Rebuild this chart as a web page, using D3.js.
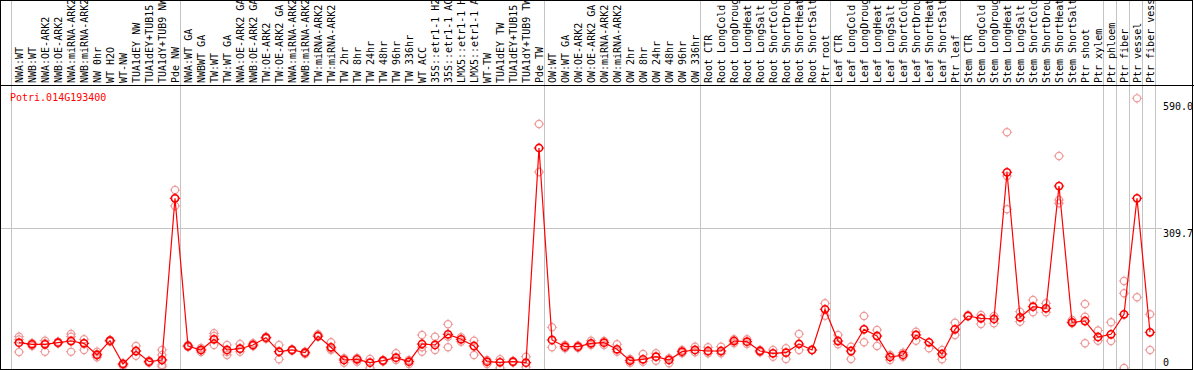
<!DOCTYPE html>
<html>
<head>
<meta charset="utf-8">
<script src="https://cdn.jsdelivr.net/npm/d3@7"></script>
<style>
  html, body { margin: 0; padding: 0; background: #fff; }
  svg { display: block; }
  text { font-family: "DejaVu Sans Mono", "Liberation Mono", monospace; font-size: 10px; }
</style>
</head>
<body>
<svg id="chart" width="1194" height="370"></svg>
<script>
const geneId = "Potri.014G193400";

const labels = [
  "NWA:WT","NWB:WT","NWA:OE-ARK2","NWB:OE-ARK2","NWA:miRNA-ARK2","NWB:miRNA-ARK2","NW 0hr","WT H2O","WT-NW",
  "TUA1dEY NW","TUA1dEY+TUB15","TUA1dY+TUB9 NW","Pde NW",
  "NWA:WT GA","NWBWT GA","TW:WT","TW:WT GA","NWA:OE-ARK2 GA","NWB:OE-ARK2 GA","TW:OE-ARK2","TW:OE-ARK2 GA",
  "NWA:miRNA-ARK2","NWB:miRNA-ARK2","TW:miRNA-ARK2","TW:miRNA-ARK2","TW 2hr","TW 8hr","TW 24hr","TW 48hr",
  "TW 96hr","TW 336hr","WT ACC","35S::etr1-1 H2","35S::etr1-1 AC","LMX5::etr1-1 H","LMX5::etr1-1 A","WT-TW",
  "TUA1dEY TW","TUA1dEY+TUB15","TUA1dY+TUB9 TW","Pde TW",
  "OW:WT","OW:WT GA","OW:OE-ARK2","OW:OE-ARK2 GA","OW:miRNA-ARK2","OW:miRNA-ARK2","OW 2hr","OW 8hr","OW 24hr",
  "OW 48hr","OW 96hr","OW 336hr",
  "Root CTR","Root LongCold","Root LongDroug","Root LongHeat","Root LongSalt","Root ShortCold","Root ShortDrou",
  "Root ShortHeat","Root ShortSalt","Ptr root",
  "Leaf CTR","Leaf LongCold","Leaf LongDroug","Leaf LongHeat","Leaf LongSalt","Leaf ShortCold","Leaf ShortDrou",
  "Leaf ShortHeat","Leaf ShortSalt","Ptr leaf",
  "Stem CTR","Stem LongCold","Stem LongDroug","Stem LongHeat","Stem LongSalt","Stem ShortCold","Stem ShortDrou",
  "Stem ShortHeat","Stem ShortSalt","Ptr shoot","Ptr xylem",
  "Ptr phloem","Ptr fiber","Ptr vessel","Ptr fiber vess"
];

const means = [
  56.2, 52.6, 52.6, 56.2, 59.9, 54.8, 28.9, 60.6, 8.9, 37.7, 14.0, 17.8, 376.7,
  48.8, 40.0, 63.7, 40.0, 42.8, 51.1, 67.3, 36.2, 40.0, 34.0, 71.0, 46.0, 17.8, 19.3, 11.8, 16.2,
  22.9, 14.0, 53.3, 51.1, 74.8, 63.7, 48.8, 14.0, 12.7, 14.0, 11.8, 488.4,
  62.2, 47.3, 47.3, 54.8, 56.2, 41.5, 16.2, 19.3, 25.1, 17.8, 36.2, 40.0,
  37.7, 37.7, 59.9, 58.4, 37.7, 32.6, 34.0, 53.3, 40.0, 130.3,
  59.9, 37.7, 85.9, 71.0, 24.4, 28.9, 73.3, 57.1, 31.1, 85.9,
  115.4, 110.3, 108.8, 434.5, 112.6, 136.1, 132.5, 404.0, 101.5, 104.3, 68.8,
  74.8, 119.2, 376.7, 79.3
];

const replicates = [
  [69.5, 63.3, 35.5], [55.5, 48.8, 53.3], [60.6, 54.8, 36.2], [58.4, 54.8, 57.1], [75.5, 69.5, 36.2],
  [63.7, 54.8, 40.0], [36.2, 31.1, 23.8], [62.2, 60.6, 58.4], [10.4, 7.3, 4.4], [48.8, 37.7, 27.3],
  [16.2, 13.3, 11.8], [40.0, 28.9, 17.8, 6.7, 2.9], [395.2, 376.7, 359.6],
  [51.1, 48.8, 46.6], [44.4, 40.0, 35.5], [77.0, 71.0, 51.1], [51.1, 35.5, 28.9], [53.3, 42.8, 36.2],
  [54.8, 48.8, 50.0], [69.5, 65.0, 67.3], [51.1, 36.2, 19.3], [41.5, 38.4], [36.2, 31.1], [74.8, 69.5],
  [57.1, 40.0, 42.2], [21.5, 11.8], [22.2, 14.0], [20.0, 0.0], [17.8, 14.4], [32.6, 17.8], [17.8, 8.9],
  [73.3, 46.0, 36.2], [69.5, 40.0], [97.0, 69.5, 46.0], [68.2, 58.4], [60.6, 28.9], [17.8, 8.9],
  [19.3, 0.0], [15.5, 12.2], [25.1, 2.2], [541.7, 435.1],
  [90.4, 46.0], [51.1, 43.7], [50.0, 44.4], [60.6, 51.1], [59.9, 51.1], [52.6, 36.2], [20.0, 11.8],
  [31.1, 14.0], [32.6, 16.2], [21.5, 10.4], [40.0, 32.6], [47.3, 34.9],
  [46.0, 32.6], [47.3, 32.6], [63.7, 54.8], [63.7, 53.3], [40.0, 34.9], [40.0, 25.1], [43.7, 20.0],
  [75.5, 40.0], [40.0], [143.6, 116.1],
  [73.3, 52.6], [47.3, 20.0], [115.4, 57.1], [84.4, 48.8], [28.9, 17.8], [34.0, 25.1], [80.6, 60.6],
  [43.7], [40.0, 19.3], [100.6, 73.3],
  [117.7], [117.7, 97.7], [115.4, 99.2], [523.3, 426.2, 352.3], [125.0, 102.8], [151.0, 123.7],
  [143.6, 123.7], [470.6, 373.0, 365.6], [106.6, 99.2], [142.1, 113.9, 54.8], [83.3, 60.6],
  [101.5, 59.9], [193.1, 165.8, 0.0], [598.7, 157.0], [119.2, 40.0]
];

const tickValues = [590.0, 309.7, 0];
const tickLabels = ["590.0", "309.7", "0"];
const gridValues = [309.7];
// column indices where a group separator is drawn
const groupBreaks = [0, 13, 41, 53, 63, 73, 84, 85, 86, 87, 88];

const W = 1194, H = 370;
const headerBottom = 85, plotBottom = 369, labelX = 1163;

const svg = d3.select("#chart");

const x = d3.scaleBand().domain(d3.range(labels.length)).range([11, 11 + 13 * labels.length]).padding(0);
const y = d3.scaleLinear().domain([0, 590]).range([368, 102.25]);
const cx = i => x(i) + x.bandwidth() / 2 + 1.5;

// vertical group separators
svg.append("g").selectAll("line").data(groupBreaks).join("line")
  .attr("x1", d => Math.floor(d === labels.length ? x(d - 1) + x.bandwidth() : x(d)) + 0.5)
  .attr("x2", d => Math.floor(d === labels.length ? x(d - 1) + x.bandwidth() : x(d)) + 0.5)
  .attr("y1", 0).attr("y2", plotBottom)
  .attr("stroke", "#c4c4c4").attr("stroke-width", 1).attr("shape-rendering", "crispEdges");

// horizontal gridline(s)
svg.append("g").selectAll("line").data(gridValues).join("line")
  .attr("x1", 1).attr("x2", labelX - 1)
  .attr("y1", d => Math.floor(y(d)) + 0.5).attr("y2", d => Math.floor(y(d)) + 0.5)
  .attr("stroke", "#c4c4c4").attr("stroke-width", 1).attr("shape-rendering", "crispEdges");

// header labels
svg.append("g").selectAll("text").data(labels).join("text")
  .attr("transform", (d, i) => `translate(${x(i) + 12},${headerBottom - 2}) rotate(-90)`)
  .attr("fill", "#000")
  .text(d => d);

// header separator
svg.append("line").attr("x1", 0).attr("x2", W).attr("y1", headerBottom + 0.5).attr("y2", headerBottom + 0.5)
  .attr("stroke", "#000").attr("stroke-width", 1).attr("shape-rendering", "crispEdges");

// gene id
svg.append("text").attr("x", 10).attr("y", 100.5).attr("fill", "#ff0000").text(geneId);

// axis labels on the right
svg.append("g").selectAll("text").data(tickValues).join("text")
  .attr("x", labelX)
  .attr("y", d => Math.min(y(d) + 8, 366))
  .attr("fill", "#000")
  .text((d, i) => tickLabels[i]);

function marker(g, color, sw) {
  const r = 3.6;
  g.append("circle").attr("r", r).attr("fill", "none").attr("stroke", color).attr("stroke-width", sw);
  const t = [[0, -r - 1.6, 0, -r + 0.4], [0, r - 0.4, 0, r + 1.6], [-r - 1.6, 0, -r + 0.4, 0], [r - 0.4, 0, r + 1.6, 0]];
  t.forEach(s => g.append("line").attr("x1", s[0]).attr("y1", s[1]).attr("x2", s[2]).attr("y2", s[3])
    .attr("stroke", color).attr("stroke-width", 1));
}

// replicate points
const repData = [];
replicates.forEach((arr, i) => arr.forEach(v => repData.push({ i, v })));
svg.append("g").selectAll("g").data(repData).join("g")
  .attr("transform", d => `translate(${cx(d.i)},${y(d.v)})`)
  .each(function () { marker(d3.select(this), "#ee9a9a", 1.2); });

// mean line
const line = d3.line().x((d, i) => cx(i)).y(d => y(d));
svg.append("path").datum(means).attr("d", line)
  .attr("fill", "none").attr("stroke", "#ff0000").attr("stroke-width", 1.2);

// mean markers
svg.append("g").selectAll("g").data(means).join("g")
  .attr("transform", (d, i) => `translate(${cx(i)},${y(d)})`)
  .each(function () { marker(d3.select(this), "#ff0000", 1.6); });

// frame
svg.append("rect").attr("x", 0.5).attr("y", 0.5).attr("width", 1192).attr("height", 369)
  .attr("fill", "none").attr("stroke", "#000").attr("stroke-width", 1).attr("shape-rendering", "crispEdges");
</script>
</body>
</html>
